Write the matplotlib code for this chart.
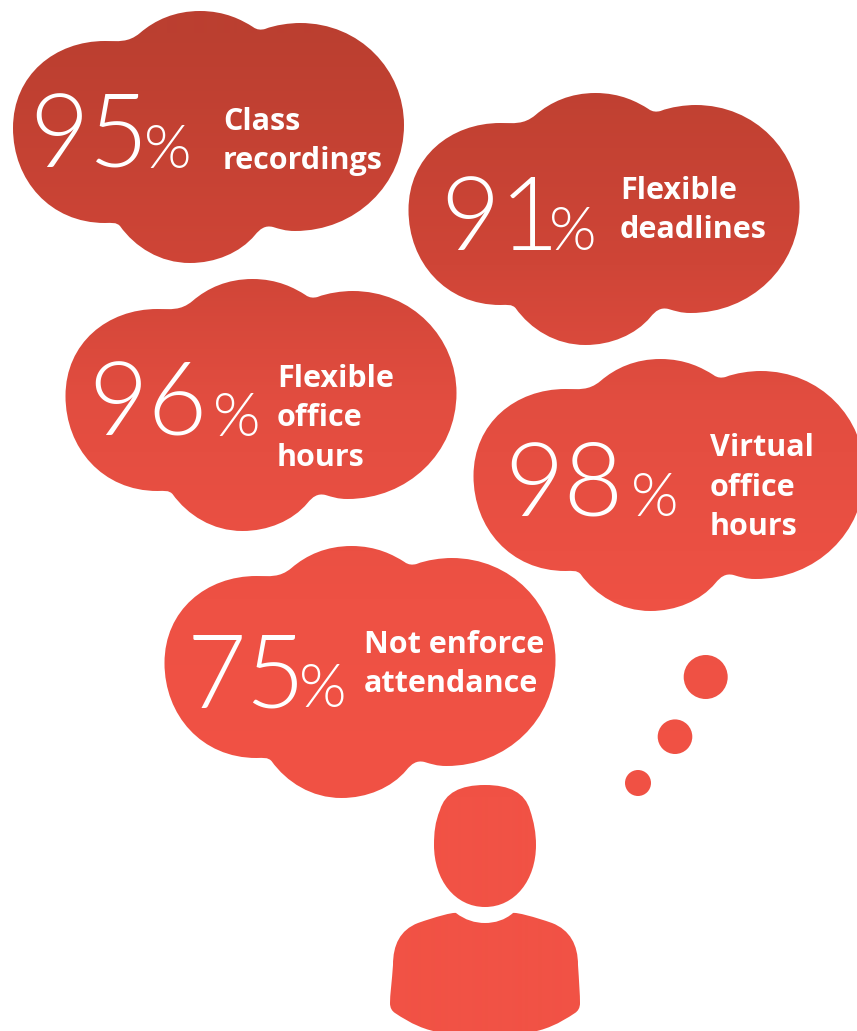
"""Thought-cloud infographic: what students found helpful."""

import matplotlib
matplotlib.use("Agg")
import matplotlib.pyplot as plt
from matplotlib import font_manager
from matplotlib.colors import LinearSegmentedColormap
from matplotlib.path import Path
from matplotlib.transforms import Affine2D
import numpy as np

# ---------------------------------------------------------------------------
# Data
# ---------------------------------------------------------------------------
percents = [95, 91, 96, 98, 75]
labels = [
    ["Class", "recordings"],
    ["Flexible", "deadlines"],
    ["Flexible", "office", "hours"],
    ["Virtual", "office", "hours"],
    ["Not enforce", "attendance"],
]

# Layout, in reference pixels
cloud_offsets = [(0, 0), (395.5, 82), (52.5, 268), (460.5, 348), (151.5, 535)]
number_x = [29, 440, 88, 504, 187]
number_base = [168, 250, 436, 516, 707]
percent_x = [144, 549, 213, 631, 299]
label_x = [223, 620, 277, 710, 364]
label_first_base = [130, 199, 387, 456, 653]
LINE_STEP = 39.5

dots = [(705.7, 677, 22), (675, 736.7, 17.3), (638, 783, 13)]

W, H = 857, 1031

# Vertical colour stops of the fill: (pixel row, colour)
color_rows = [30, 263, 400, 600, 800]
color_stops = ["#BB3F30", "#CF4537", "#E24D40", "#EE5144", "#F15245"]


def light_font():
    """Matplotlib's weight matching lands on a hairline cut, so look up Light by file."""
    for family in ["Lato", "Roboto", "Open Sans", "Noto Sans"]:
        for f in font_manager.fontManager.ttflist:
            name = f.fname.rsplit("/", 1)[-1].lower()
            if f.name == family and "light" in name and "italic" not in name \
                    and "extra" not in name and "condensed" not in name:
                return font_manager.FontProperties(fname=f.fname)
    return font_manager.FontProperties(family="DejaVu Sans", weight="light")


def bezier_path(start, segments):
    verts = [start]
    codes = [Path.MOVETO]
    for seg in segments:
        verts.extend(seg)
        codes.extend([Path.CURVE4] * 3)
    return Path(verts, codes)


def cloud_path():
    return bezier_path((13, 128), [
        [(13, 75), (55, 41), (105, 41)],
        [(118, 41), (128, 43), (140, 33)],
        [(155, 20), (175, 11), (200, 11)],
        [(225, 11), (242, 20), (253, 27)],
        [(257, 30), (261, 30), (265, 29)],
        [(275, 25), (290, 23), (300, 23)],
        [(360, 23), (404, 70), (404, 125)],
        [(404, 185), (355, 231), (295, 231)],
        [(285, 231), (280, 229), (273, 227)],
        [(265, 225), (260, 229), (255, 235)],
        [(240, 253), (215, 263), (190, 263)],
        [(160, 263), (135, 247), (120, 226)],
        [(116, 222), (112, 223), (105, 223)],
        [(50, 223), (13, 180), (13, 128)],
    ])


def head_path():
    return bezier_path((485, 785), [
        [(510, 785), (525, 793), (530, 810)],
        [(534, 822), (536, 833), (536, 845)],
        [(536, 880), (515, 907), (485, 907)],
        [(455, 907), (434, 880), (434, 845)],
        [(434, 833), (435, 822), (440, 810)],
        [(445, 793), (460, 785), (485, 785)],
    ])


def body_path():
    return bezier_path((456, 913), [
        [(465, 920), (475, 923), (485, 923)],
        [(495, 923), (505, 920), (513, 913)],
        [(516, 912), (535, 917), (552, 923)],
        [(570, 930), (578, 945), (578, 965)],
        [(579, 980), (580, 995), (580, 1003)],
        [(580, 1008), (578, 1011), (575, 1013)],
        [(560, 1023), (545, 1031), (525, 1033)],
        [(500, 1033), (470, 1033), (445, 1033)],
        [(425, 1031), (410, 1023), (395, 1013)],
        [(392, 1011), (390, 1008), (390, 1003)],
        [(390, 995), (392, 980), (393, 965)],
        [(393, 945), (400, 930), (418, 923)],
        [(435, 917), (453, 912), (456, 913)],
    ])


# ---------------------------------------------------------------------------
# Figure
# ---------------------------------------------------------------------------
fig = plt.figure(figsize=(W / 100, H / 100), dpi=100, facecolor="white")
ax = fig.add_axes([0, 0, 1, 1])

base = cloud_path()
shapes = [base.transformed(Affine2D().translate(dx, dy)) for dx, dy in cloud_offsets]
shapes += [Path.circle((x, y), r) for x, y, r in dots]
shapes += [head_path(), body_path()]
clip = Path.make_compound_path(*shapes)

# One vertical gradient behind everything, cut to the shapes
lo, hi = color_rows[0], color_rows[-1]
stops = [((r - lo) / (hi - lo), c) for r, c in zip(color_rows, color_stops)]
cmap = LinearSegmentedColormap.from_list("cloud", stops)
rows = np.arange(H)[:, None]
im = ax.imshow(rows, cmap=cmap, vmin=lo, vmax=hi, extent=(0, W, H, 0),
               aspect="auto", interpolation="bilinear", zorder=1)
im.set_clip_path(clip, ax.transData)
ax.set_xlim(0, W)
ax.set_ylim(H, 0)
ax.axis("off")

light = light_font()
for i, pct in enumerate(percents):
    ax.text(number_x[i], number_base[i], str(pct), fontproperties=light, fontsize=74,
            color="white", ha="left", va="baseline", zorder=3)
    ax.text(percent_x[i], number_base[i], "%", fontproperties=light, fontsize=44,
            color="white", ha="left", va="baseline", zorder=3)
    for j, line in enumerate(labels[i]):
        ax.text(label_x[i], label_first_base[i] + j * LINE_STEP, line, family="Open Sans",
                weight="bold", fontsize=22, color="white", ha="left", va="baseline",
                zorder=3)

fig.savefig("out.png", dpi=100, facecolor="white")
plt.close(fig)
